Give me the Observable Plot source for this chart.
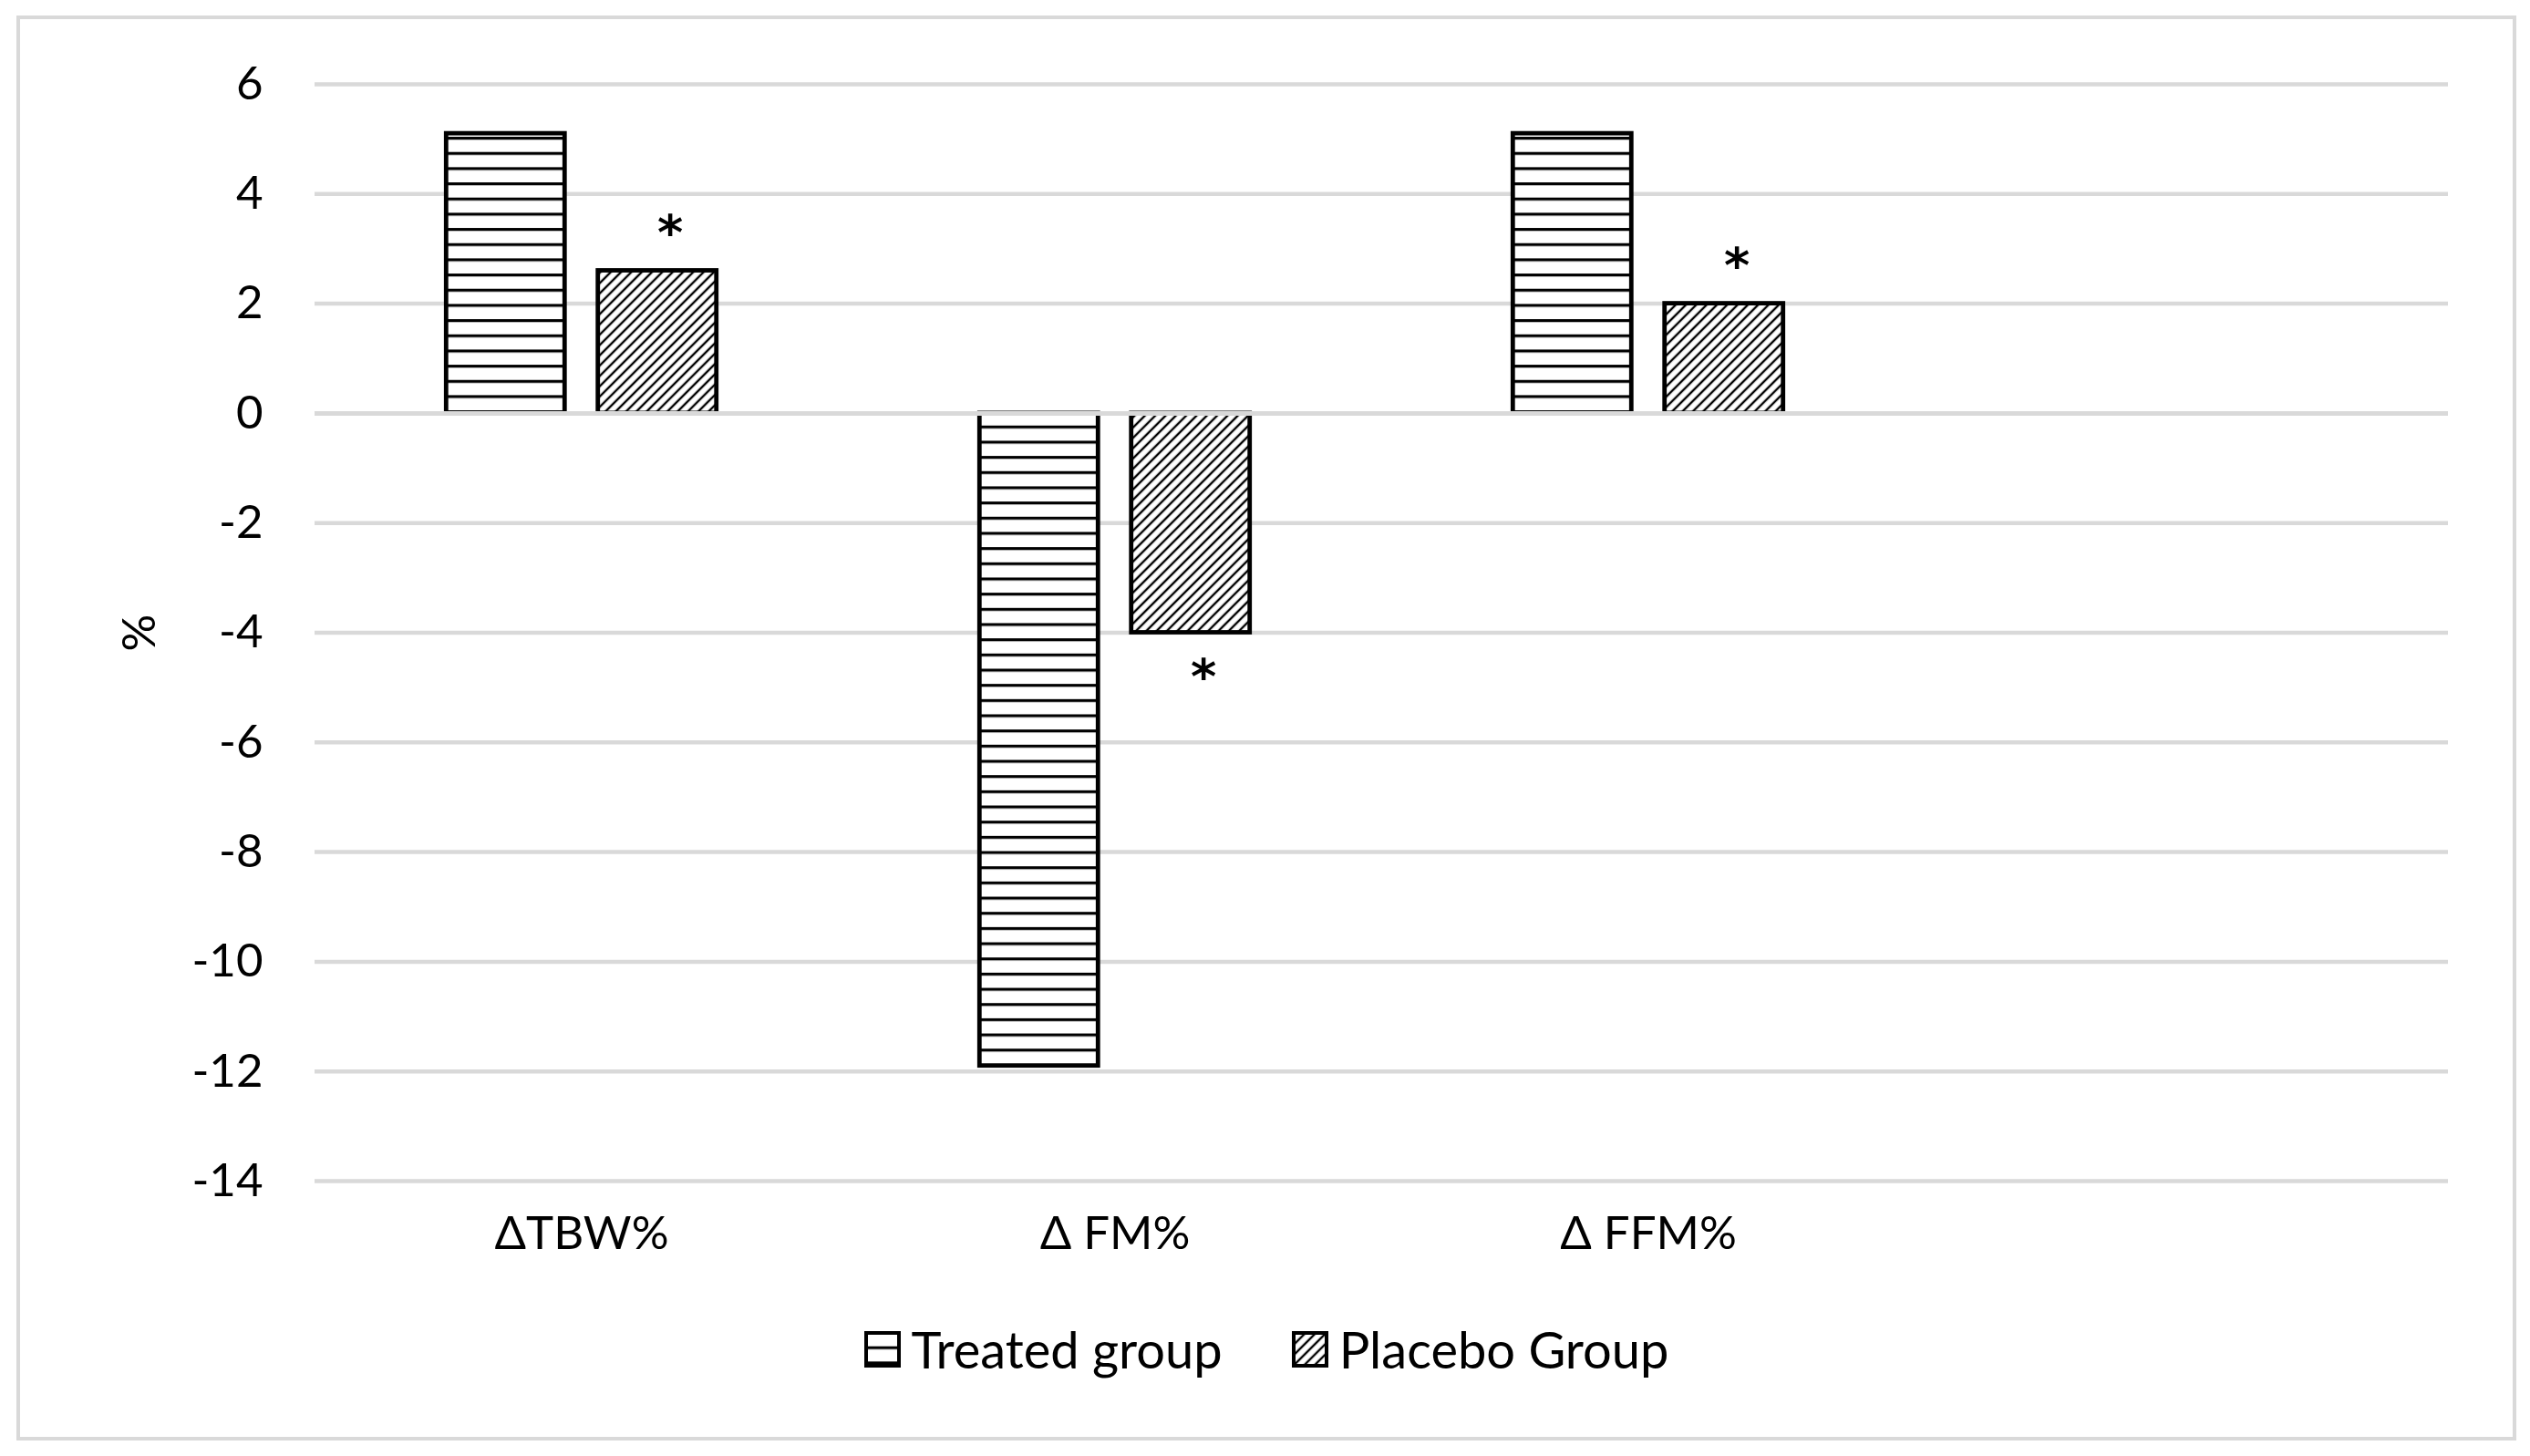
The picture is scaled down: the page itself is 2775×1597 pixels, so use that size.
<!DOCTYPE html>
<html>
<head>
<meta charset="utf-8">
<script src="https://cdn.jsdelivr.net/npm/d3@7"></script>
<script src="https://cdn.jsdelivr.net/npm/@observablehq/plot@0.6"></script>
<style>
  html, body { margin: 0; padding: 0; background: #fff; }
  #page { position: relative; width: 2775px; height: 1597px; background: #fff; overflow: hidden; font-family: Lato, "Open Sans", sans-serif; }
  #frame { position: absolute; left: 18px; top: 17px; width: 2742px; height: 1563px; box-sizing: border-box; border: 4px solid #d9d9d9; }
  #chart { position: absolute; left: 0; top: 0; }
  #legend { position: absolute; left: 18px; width: 2742px; top: 1446px; display: flex; justify-content: center; align-items: center; font-size: 56px; color: #000; }
  .item { display: flex; align-items: center; }
  .item svg { display: block; margin-right: 12px; }
  .item + .item { margin-left: 76px; }
</style>
</head>
<body>
<svg width="0" height="0" style="position:absolute">
  <defs>
    <pattern id="pat-h" patternUnits="userSpaceOnUse" width="20" height="16.67">
      <rect x="0" y="0" width="20" height="16.67" fill="#fff"></rect>
      <rect x="0" y="0" width="20" height="3.2" fill="#000"></rect>
    </pattern>
    <pattern id="pat-d" patternUnits="userSpaceOnUse" width="8" height="8" patternTransform="rotate(45)">
      <rect x="0" y="0" width="8" height="8" fill="#fff"></rect>
      <line x1="4" y1="0" x2="4" y2="8" stroke="#000" stroke-width="2.4"></line>
    </pattern>
  </defs>
</svg>
<div id="page">
  <div id="frame"></div>
  <div id="chart"></div>
  <div id="legend"></div>
</div>
<script>
// ---- data ----
const categories = ["ΔTBW%", "Δ FM%", "Δ FFM%", " "]; // 4th slot is an empty category
const groups = ["Treated group", "Placebo Group"];
const treatedValues = [5.1, -11.9, 5.1];
const placeboValues = [2.6, -4.0, 2.0];
const placeboStar = [true, true, true];
const yTicks = [6, 4, 2, 0, -2, -4, -6, -8, -10, -12, -14];
const yLabel = "%";
const patterns = ["url(#pat-h)", "url(#pat-d)"];

// ---- tables built from the arrays ----
const rows = [];
treatedValues.forEach((v, i) => rows.push({cat: categories[i], group: groups[0], value: v, star: false}));
placeboValues.forEach((v, i) => rows.push({cat: categories[i], group: groups[1], value: v, star: placeboStar[i]}));
const gridRows = [];
categories.forEach(c => yTicks.forEach(t => gridRows.push({cat: c, v: t})));

const starStyle = {fx: "cat", x: "group", y: "value", text: () => "*", fontFamily: "DejaVu Sans", fontSize: 54, fontWeight: "bold", dx: 14};

const chart = Plot.plot({
  width: 2775,
  height: 1420,
  marginLeft: 344,
  marginRight: 90,
  marginTop: 92,
  marginBottom: 125,
  style: {fontFamily: "Lato", fontSize: "51px", color: "#000", background: "transparent", overflow: "visible"},
  fx: {domain: categories, padding: 0, label: null, tickSize: 0, tickPadding: 38, axis: "bottom"},
  x: {domain: groups, paddingInner: 0.219, paddingOuter: 0.867, round: false, axis: null},
  y: {domain: [-14, 6], ticks: yTicks, tickSize: 0, tickPadding: 57, tickFormat: d => String(d),
      label: yLabel, labelAnchor: "center", labelOffset: 212, labelArrow: "none"},
  color: {domain: groups, range: patterns},
  marks: [
    Plot.ruleY(gridRows.filter(d => d.v !== 0), {fx: "cat", y: "v", stroke: "#d9d9d9", strokeWidth: 4.5}),
    Plot.barY(rows, {fx: "cat", x: "group", y: "value", fill: "group", stroke: "#000", strokeWidth: 4.8}),
    Plot.ruleY(gridRows.filter(d => d.v === 0), {fx: "cat", y: "v", stroke: "#d9d9d9", strokeWidth: 5}),
    Plot.text(rows.filter(d => d.star && d.value > 0), {...starStyle, dy: -40}),
    Plot.text(rows.filter(d => d.star && d.value < 0), {...starStyle, dy: 50})
  ]
});
document.getElementById("chart").appendChild(chart);

// ---- legend (HTML, below the svg) ----
const legend = d3.select("#legend");
groups.forEach((g, i) => {
  const item = legend.append("div").attr("class", "item");
  const s = item.append("svg").attr("width", 40).attr("height", 40);
  s.append("rect").attr("x", 2).attr("y", 2).attr("width", 36).attr("height", 36)
    .attr("fill", patterns[i]).attr("stroke", "#000").attr("stroke-width", 4);
  item.append("span").text(g);
});
</script>
</body>
</html>
